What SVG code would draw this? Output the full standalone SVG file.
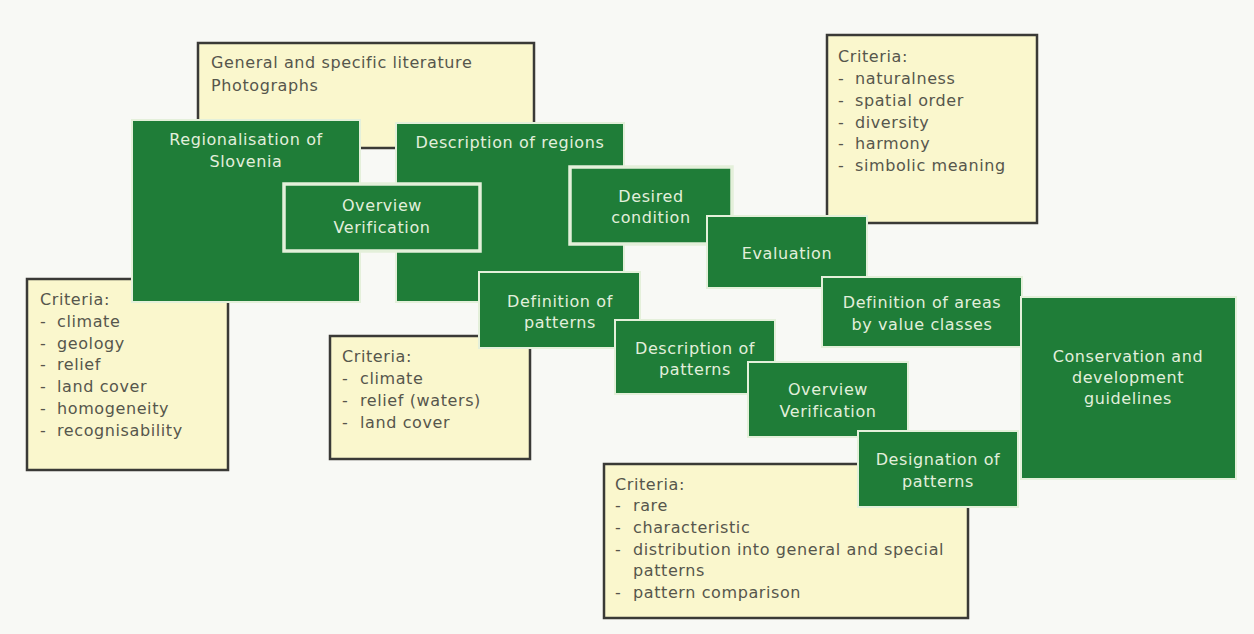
<svg xmlns="http://www.w3.org/2000/svg" width="1254" height="634" viewBox="0 0 1254 634">
  <style>
    .note { fill: #faf7cd; stroke: #3a3a36; stroke-width: 2.5; }
    .step { fill: #1f7d38; stroke: #e4f0da; stroke-width: 2; }
    .step.thick { stroke-width: 3.5; }
    .lbl { font-family: "DejaVu Sans", "Liberation Sans", sans-serif; font-size: 16px; letter-spacing: 0.6px; fill: #e2efdc; text-anchor: middle; }
    .txt { font-family: "DejaVu Sans", "Liberation Sans", sans-serif; font-size: 16px; letter-spacing: 0.6px; fill: #56564c; }
  </style>

  <rect width="1254" height="634" fill="#f8f9f5"/>

  <!-- sources -->
  <g id="sources">
    <rect class="note" x="198" y="43" width="336" height="105"/>
    <text class="txt" x="211" y="68">General and specific literature</text>
    <text class="txt" x="211" y="91">Photographs</text>
  </g>

  <!-- regionalisation criteria -->
  <g id="criteria-regions">
    <rect class="note" x="27" y="279" width="201" height="191"/>
    <text class="txt" x="40" y="305">Criteria:</text>
    <text class="txt" x="40" y="327">- <tspan x="57">climate</tspan></text>
    <text class="txt" x="40" y="349">- <tspan x="57">geology</tspan></text>
    <text class="txt" x="40" y="370">- <tspan x="57">relief</tspan></text>
    <text class="txt" x="40" y="392">- <tspan x="57">land cover</tspan></text>
    <text class="txt" x="40" y="414">- <tspan x="57">homogeneity</tspan></text>
    <text class="txt" x="40" y="436">- <tspan x="57">recognisability</tspan></text>
  </g>

  <g id="regionalisation">
    <rect class="step" x="132" y="120" width="228" height="182"/>
    <text class="lbl" x="246" y="145">Regionalisation of</text>
    <text class="lbl" x="246" y="167">Slovenia</text>
  </g>

  <g id="description-regions">
    <rect class="step" x="396" y="123" width="228" height="179"/>
    <text class="lbl" x="510" y="148">Description of regions</text>
  </g>

  <g id="overview-1">
    <rect class="step thick" x="284" y="184" width="196" height="67"/>
    <text class="lbl" x="382" y="211">Overview</text>
    <text class="lbl" x="382" y="233">Verification</text>
  </g>

  <g id="desired-condition">
    <rect class="step thick" x="570" y="167" width="162" height="77"/>
    <text class="lbl" x="651" y="202">Desired</text>
    <text class="lbl" x="651" y="223">condition</text>
  </g>

  <!-- evaluation criteria -->
  <g id="criteria-evaluation">
    <rect class="note" x="827" y="35" width="210" height="188"/>
    <text class="txt" x="838" y="62">Criteria:</text>
    <text class="txt" x="838" y="84">- <tspan x="855">naturalness</tspan></text>
    <text class="txt" x="838" y="106">- <tspan x="855">spatial order</tspan></text>
    <text class="txt" x="838" y="128">- <tspan x="855">diversity</tspan></text>
    <text class="txt" x="838" y="149">- <tspan x="855">harmony</tspan></text>
    <text class="txt" x="838" y="171">- <tspan x="855">simbolic meaning</tspan></text>
  </g>

  <g id="evaluation">
    <rect class="step" x="707" y="216" width="160" height="72"/>
    <text class="lbl" x="787" y="259">Evaluation</text>
  </g>

  <!-- pattern criteria -->
  <g id="criteria-patterns">
    <rect class="note" x="330" y="336" width="200" height="123"/>
    <text class="txt" x="342" y="362">Criteria:</text>
    <text class="txt" x="342" y="384">- <tspan x="360">climate</tspan></text>
    <text class="txt" x="342" y="406">- <tspan x="360">relief (waters)</tspan></text>
    <text class="txt" x="342" y="428">- <tspan x="360">land cover</tspan></text>
  </g>

  <g id="definition-patterns">
    <rect class="step" x="479" y="272" width="161" height="76"/>
    <text class="lbl" x="560" y="307">Definition of</text>
    <text class="lbl" x="560" y="328">patterns</text>
  </g>

  <g id="description-patterns">
    <rect class="step" x="615" y="320" width="160" height="74"/>
    <text class="lbl" x="695" y="354">Description of</text>
    <text class="lbl" x="695" y="375">patterns</text>
  </g>

  <g id="overview-2">
    <rect class="step" x="748" y="362" width="160" height="75"/>
    <text class="lbl" x="828" y="395">Overview</text>
    <text class="lbl" x="828" y="417">Verification</text>
  </g>

  <g id="definition-areas">
    <rect class="step" x="822" y="277" width="200" height="70"/>
    <text class="lbl" x="922" y="308">Definition of areas</text>
    <text class="lbl" x="922" y="330">by value classes</text>
  </g>

  <!-- designation criteria -->
  <g id="criteria-designation">
    <rect class="note" x="604" y="464" width="364" height="154"/>
    <text class="txt" x="615" y="490">Criteria:</text>
    <text class="txt" x="615" y="511">- <tspan x="633">rare</tspan></text>
    <text class="txt" x="615" y="533">- <tspan x="633">characteristic</tspan></text>
    <text class="txt" x="615" y="555">- <tspan x="633">distribution into general and special</tspan></text>
    <text class="txt" x="633" y="576">patterns</text>
    <text class="txt" x="615" y="598">- <tspan x="633">pattern comparison</tspan></text>
  </g>

  <g id="designation">
    <rect class="step" x="858" y="431" width="160" height="76"/>
    <text class="lbl" x="938" y="465">Designation of</text>
    <text class="lbl" x="938" y="487">patterns</text>
  </g>

  <g id="guidelines">
    <rect class="step" x="1021" y="297" width="215" height="182"/>
    <text class="lbl" x="1128" y="362">Conservation and</text>
    <text class="lbl" x="1128" y="383">development</text>
    <text class="lbl" x="1128" y="404">guidelines</text>
  </g>
</svg>
